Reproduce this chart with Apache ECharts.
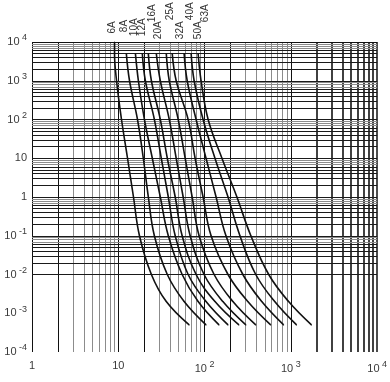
<!DOCTYPE html>
<html><head><meta charset="utf-8">
<script src="https://cdn.jsdelivr.net/npm/echarts@6/dist/echarts.min.js"></script>
<style>html,body{margin:0;padding:0;background:#fff}#c{width:390px;height:382px}</style>
</head><body><div id="c"></div>
<script>
// Fuse ratings (curve labels)
const ratings = ['6A','8A','10A','12A','16A','20A','25A','32A','40A','50A','63A'];
// Time levels (s) at which currents were read
const times = [5000, 1000, 100, 10, 1, 0.1, 0.01, 0.002, 0.0005];
const times6A = [10000, 5000, 1000, 100, 10, 1, 0.1, 0.01, 0.002, 0.0005];
// Currents (A) for each curve at the time levels above
const cur6A  = [9.05, 9.05, 9.55, 10.9, 12.8, 15.0, 17.6, 24.2, 36.0, 66.3];
const cur8A  = [12.4, 13.5, 16.7, 19.5, 22.3, 26.2, 37.0, 58.0, 104];
const cur10A = [15.8, 17.1, 20.1, 24.8, 30.7, 38.0, 55.0, 84.2, 147];
const cur12A = [19.0, 20.6, 26.2, 31.5, 38.0, 45.7, 64.5, 104, 187];
const cur16A = [22.3, 24.2, 30.7, 37.0, 45.7, 55.0, 79.8, 132, 250];
const cur20A = [27.6, 30.7, 39.0, 46.9, 56.5, 68.1, 98.7, 163, 301];
const cur25A = [36.0, 39.0, 49.5, 59.6, 71.8, 86.4, 129, 213, 392];
const cur32A = [42.2, 46.9, 64.5, 77.7, 96.1, 119, 187, 317, 584];
const cur40A = [58.0, 62.9, 79.8, 104, 136, 177, 278, 460, 825];
const cur50A = [69.9, 75.7, 96.1, 132, 187, 257, 392, 650, 1165];
const cur63A = [84.2, 91.1, 110, 159, 237, 344, 554, 942, 1734];
// Axis tick exponents
const xTickExps = [0, 1, 2, 3, 4];
const yTickExps = [-4, -3, -2, -1, 0, 1, 2, 3, 4];
// Log-paper grid: multipliers within each decade
const gridMults = [1, 2, 3, 4, 5, 6, 7, 8, 9];
const xDecades = [0, 1, 2, 3];
const yDecades = [-4, -3, -2, -1, 0, 1, 2, 3];

const curves = [cur6A, cur8A, cur10A, cur12A, cur16A, cur20A, cur25A, cur32A, cur40A, cur50A, cur63A];
// label placement (styling)
const labelDist = [8, 21, 17, 17, 31, 14, 33, 14, 33, 14, 31];
const labelShift = [-2, -2, -1, 0, 4, 2, 4, 8, 6, 7, 7];

function expLabel(v) {
  const e = Math.round(Math.log10(v));
  if (e === 0) return '{b|1}';
  if (e === 1) return '{b|10}';
  return '{b|10}{s| ' + e + '}';
}
const rich = {
  b: {fontSize: 11, color: '#3a3a3a', fontFamily: 'Liberation Sans, Arial'},
  s: {fontSize: 9, color: '#3a3a3a', fontFamily: 'Liberation Sans, Arial', padding: [0, 0, 8, 0]}
};

const vLines = [];
xDecades.forEach(d => gridMults.forEach(m => {
  const v = m * Math.pow(10, d);
  let color = '#8c8c8c', width = 1;
  if (m === 1 || m === 2) color = '#111';
  if (d === 3) { color = '#111'; width = m === 1 ? 1 : 1.6; }
  vLines.push({xAxis: v, lineStyle: {color, width, type: 'solid'}});
}));
vLines.push({xAxis: Math.pow(10, 4), lineStyle: {color: '#111', width: 1.5, type: 'solid'}});

const hLines = [];
yDecades.forEach(d => gridMults.forEach(m => {
  const v = m * Math.pow(10, d);
  const color = m <= 6 ? '#1a1a1a' : '#8c8c8c';
  hLines.push({yAxis: v, lineStyle: {color, width: 1, type: 'solid'}});
}));
hLines.push({yAxis: Math.pow(10, 4), lineStyle: {color: '#111', width: 1, type: 'solid'}});

const series = [{
  type: 'line', data: [], silent: true, z: 1,
  markLine: {silent: true, symbol: ['none', 'none'], animation: false, label: {show: false},
    emphasis: {disabled: true}, data: vLines.concat(hLines)}
}];
curves.forEach((cur, i) => {
  const ts = i === 0 ? times6A : times;
  const data = cur.map((c, j) => [c, ts[j]]);
  data[0] = {value: data[0], label: {show: true, formatter: ratings[i], position: 'top', distance: labelDist[i],
    offset: [0, labelShift[i]],
    rotate: 90, align: 'left', verticalAlign: 'middle', fontSize: 10, color: '#333', fontFamily: 'Liberation Sans, Arial'}};
  series.push({type: 'line', name: ratings[i], data, smooth: 0.4,
    showSymbol: true, showAllSymbol: true, symbol: 'circle', symbolSize: 1, itemStyle: {color: '#111'},
    z: 5, clip: false, lineStyle: {color: '#111', width: 1.6}, animation: false, emphasis: {disabled: true}});
});

const chart = echarts.init(document.getElementById('c'), null, {renderer: 'canvas'});
chart.setOption({
  animation: false,
  backgroundColor: '#fff',
  grid: {left: 32, right: 11, top: 42, bottom: 30, containLabel: false},
  xAxis: {type: 'log', logBase: 10, min: 1, max: 10000,
    axisLine: {show: false}, axisTick: {show: false}, splitLine: {show: false},
    axisLabel: {formatter: expLabel, rich, margin: 8, showMinLabel: true, showMaxLabel: true}},
  yAxis: {type: 'log', logBase: 10, min: 1e-4, max: 1e4,
    axisLine: {show: false}, axisTick: {show: false}, splitLine: {show: false},
    axisLabel: {formatter: expLabel, rich, margin: 5, showMinLabel: true, showMaxLabel: true}},
  series
});
</script></body></html>
